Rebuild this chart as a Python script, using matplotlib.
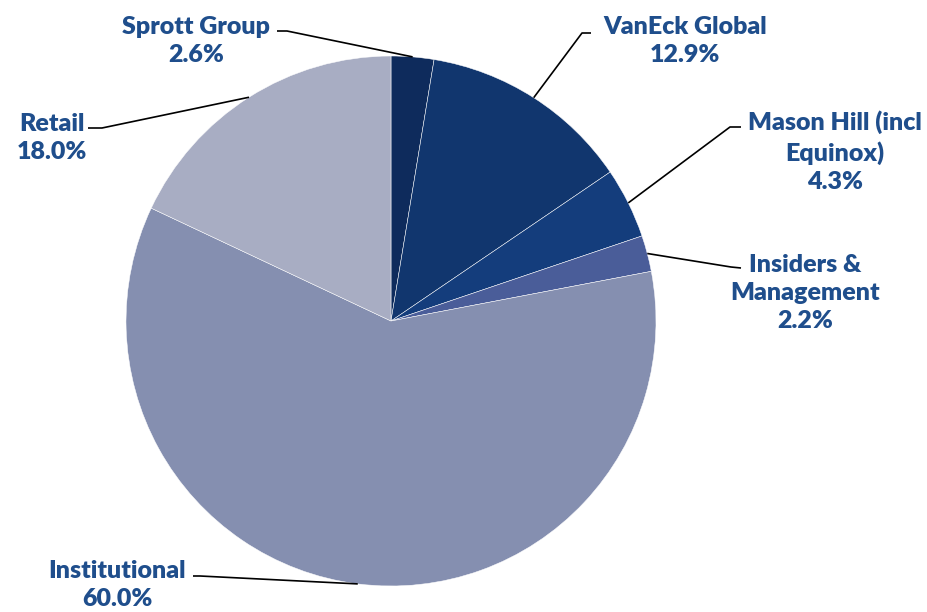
import matplotlib.pyplot as plt
import numpy as np

labels = ['Sprott Group', 'VanEck Global', 'Mason Hill (incl\nEquinox)', 'Insiders &\nManagement', 'Institutional', 'Retail']
shares = [2.6, 12.9, 4.3, 2.2, 60.0, 18.0]
colors = ['#0e2b5c', '#11366e', '#143d7c', '#4a5d99', '#858fb0', '#a8adc3']

# label layout in pixel coords (text centre, leader start, elbow)
text_pos = [(196, 41), (685, 41), (835, 152), (805, 293), (117, 585), (52, 138)]
stub_a = [(277, 31), (591, 33), (741, 127), (741, 268), (193, 576), (88, 128)]
stub_b = [(287, 31), (582, 33), (730, 127), (731, 267), (200, 576), (102, 128)]

W, H = 927, 612
cx, cy, R = 391, 321, 265

fig = plt.figure(figsize=(W / 100, H / 100), dpi=100)
ax = fig.add_axes([0, 0, 1, 1])

wedges, _ = ax.pie(shares, colors=colors, startangle=90, counterclock=False,
                   center=(cx, H - cy), radius=R,
                   wedgeprops=dict(edgecolor='white', linewidth=0.35))
ax.set_xlim(0, W)
ax.set_ylim(0, H)
ax.set_aspect('equal')
ax.axis('off')

for w, lab, s, tp, a, b in zip(wedges, labels, shares, text_pos, stub_a, stub_b):
    ang = np.deg2rad((w.theta1 + w.theta2) / 2)
    ex = cx + R * np.cos(ang)
    ey = (H - cy) + R * np.sin(ang)
    ax.plot([a[0], b[0], ex], [H - a[1], H - b[1], ey], color='black', lw=1.2,
            solid_capstyle='butt')
    ax.text(tp[0], H - tp[1], f'{lab}\n{s:.1f}%', ha='center', va='center',
            fontsize=18, fontweight='heavy', color='#1f4e8c', family='Lato',
            linespacing=1.36)

fig.savefig('out.png', dpi=100)
